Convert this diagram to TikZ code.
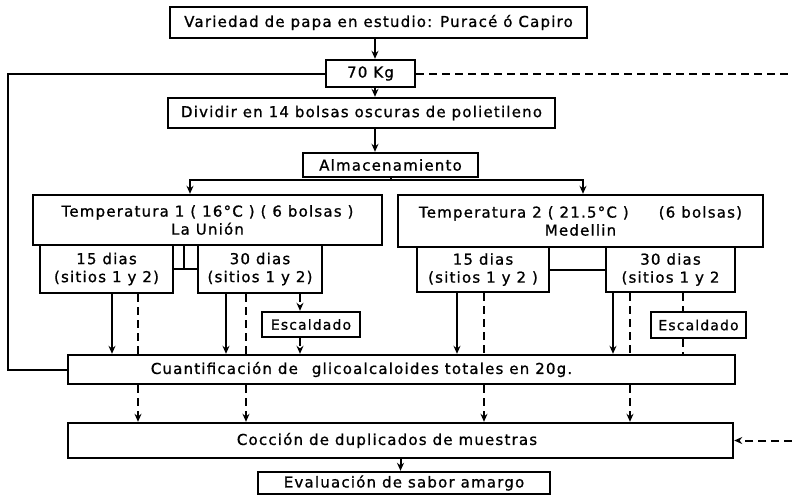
\documentclass[tikz,border=0pt]{standalone}
\usepackage{fontspec}
\setmainfont{DejaVu Sans}[LetterSpace=8, FakeBold=1]
\usetikzlibrary{arrows.meta}
\tikzset{
  box/.style={draw, line width=2.4pt, inner sep=2pt, align=center, font=\fontsize{15}{18}\selectfont},
  dline/.style={dash pattern=on 8pt off 5pt},
  >={Stealth[length=8pt,width=7pt]}
}
\begin{document}
\begin{tikzpicture}[x=1pt, y=-1pt, line width=2pt]
\useasboundingbox (0,0) rectangle (792,499);

\node[box, minimum width=417pt, minimum height=31pt] (var) at (378.5,22.5) {Variedad de papa en estudio: Puracé ó Capiro};
\node[box, minimum width=89pt, minimum height=27pt] (kg) at (370.5,73.5) {70 Kg};
\node[box, minimum width=387pt, minimum height=30pt] (div) at (361.5,113) {Dividir en 14 bolsas oscuras de polietileno};
\node[box, minimum width=175pt, minimum height=24pt] (alm) at (390.5,165) {Almacenamiento};

\node[box, minimum width=349pt, minimum height=50pt] (t1) at (207.5,220) {Temperatura 1 ( 16°C ) ( 6 bolsas )\\La Unión};
\node[box, minimum width=365pt, minimum height=52pt] (t2) at (580.5,221) {Temperatura 2 ( 21.5°C )\hspace{30pt}(6 bolsas)\\Medellin};

\node[box, minimum width=133pt, minimum height=48pt] (a15) at (106.5,269) {15 dias\\(sitios 1 y 2)};
\node[box, minimum width=124pt, minimum height=48pt] (a30) at (260,269) {30 dias\\(sitios 1 y 2)};
\node[box, minimum width=132pt, minimum height=45pt] (b15) at (483,269.5) {15 dias\\(sitios 1 y 2 )};
\node[box, minimum width=129pt, minimum height=45pt] (b30) at (670.5,269.5) {30 dias\\(sitios 1 y 2};

\node[box, minimum width=98pt, minimum height=25pt, font=\fontsize{14}{17}\selectfont] (esca) at (311,324.5) {Escaldado};
\node[box, minimum width=95pt, minimum height=26pt, font=\fontsize{14}{17}\selectfont] (escb) at (698.5,325) {Escaldado};

\node[box, minimum width=667pt, minimum height=29pt] (cuant) at (401.5,369.5) {Cuantificación de\hspace{8pt} glicoalcaloides totales en 20g.\hspace{80pt}};
\node[box, minimum width=665pt, minimum height=35pt] (cocc) at (400.5,440.5) {Cocción de duplicados de muestras\hspace{27pt}};
\node[box, minimum width=292pt, minimum height=22pt] (eval) at (404,483) {Evaluación de sabor amargo};

\coordinate (lft) at (8,0);
\coordinate (rgt) at (792,0);
\coordinate (split) at (390.5,180);

% main line
\draw[->] ([xshift=-3.5pt]var.south) -- ([xshift=-3.5pt]var.south |- kg.north);
\draw[->] ([xshift=4.5pt]kg.south) -- ([xshift=4.5pt]kg.south |- div.north);
\draw[->] ([xshift=13.5pt]div.south) -- ([xshift=13.5pt]div.south |- alm.north);
\draw (alm.south) -- (split);
\draw[->] (split) -| ([xshift=-17.5pt]t1.north);
\draw[->] (split) -| ([xshift=2.5pt]t2.north);

% loop and dashed line from 70 Kg
\draw (kg.west) -- (kg.west -| lft) |- (cuant.west);
\draw[dline] (kg.east) -- (kg.east -| rgt);
\draw[dline,->] (cocc.east -| rgt) -- (cocc.east);

% temperature 1
\draw ([xshift=10pt]a15.east |- t1.south) -- ([xshift=10pt]a15.east);
\draw (a15.east) -- (a30.west);
\draw[->] ([xshift=5.5pt]a15.south) -- ([xshift=5.5pt]a15.south |- cuant.north);
\draw[dline] ([xshift=31.5pt]a15.south) -- ([xshift=31.5pt]a15.south |- cuant.north);
\draw[dline,->] ([xshift=31.5pt]a15.south |- cuant.south) -- ([xshift=31.5pt]a15.south |- cocc.north);
\draw[->] ([xshift=-34pt]a30.south) -- ([xshift=-34pt]a30.south |- cuant.north);
\draw[dline] ([xshift=-14pt]a30.south) -- ([xshift=-14pt]a30.south |- cuant.north);
\draw[dline,->] ([xshift=-14pt]a30.south |- cuant.south) -- ([xshift=-14pt]a30.south |- cocc.north);
\draw[dline,->] ([xshift=40pt]a30.south) -- ([xshift=40pt]a30.south |- esca.north);
\draw[dline,->] ([xshift=-11pt]esca.south) -- ([xshift=-11pt]esca.south |- cuant.north);

% temperature 2
\draw (b15.east) -- (b30.west);
\draw[->] ([xshift=-26pt]b15.south) -- ([xshift=-26pt]b15.south |- cuant.north);
\draw[dline] ([xshift=1pt]b15.south) -- ([xshift=1pt]b15.south |- cuant.north);
\draw[dline,->] ([xshift=1pt]b15.south |- cuant.south) -- ([xshift=1pt]b15.south |- cocc.north);
\draw[->] ([xshift=-57.5pt]b30.south) -- ([xshift=-57.5pt]b30.south |- cuant.north);
\draw[dline] ([xshift=-40.5pt]b30.south) -- ([xshift=-40.5pt]b30.south |- cuant.north);
\draw[dline,->] ([xshift=-40.5pt]b30.south |- cuant.south) -- ([xshift=-40.5pt]b30.south |- cocc.north);
\draw[dline] ([xshift=12.5pt]b30.south) -- ([xshift=12.5pt]b30.south |- escb.north);
\draw[dline] ([xshift=-15.5pt]escb.south) -- ([xshift=-15.5pt]escb.south |- cuant.north);

\draw[->] (cocc.south) -- (cocc.south |- eval.north);
\end{tikzpicture}
\end{document}
